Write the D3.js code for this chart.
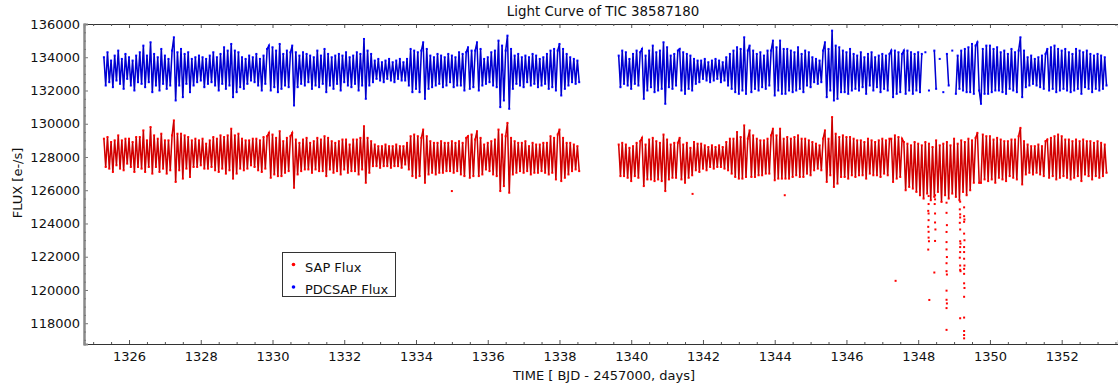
<!DOCTYPE html>
<html><head><meta charset="utf-8">
<script src="https://cdn.jsdelivr.net/npm/d3@7/dist/d3.min.js"></script>
<style>
body{margin:0;background:#fff}
svg{display:block;font-family:"DejaVu Sans",sans-serif}
</style>
</head><body>
<svg id="chart" width="1118" height="385"></svg>
<script>
// ---------------- DATA ----------------
const chartTitle = "Light Curve of TIC 38587180";
const xTitle = "TIME [ BJD - 2457000, days]";
const yTitle = "FLUX [e-/s]";
const seriesNames = ["SAP Flux", "PDCSAP Flux"];
const xTickValues = [1326,1328,1330,1332,1334,1336,1338,1340,1342,1344,1346,1348,1350,1352];
const yTickValues = [118000,120000,122000,124000,126000,128000,130000,132000,134000,136000];

// cadence of the (binned) samples, days; start time of each orbit
const cadence = 0.05;
const orbit1Start = 1325.30;
const orbit2Start = 1339.65;

// SAP flux, orbit 1 (e-/s)
const sapOrbit1 = [
129100,127400,129200,127300,128900,127100,129000,127500,129300,127300,
129000,127200,129100,127600,129100,127400,128900,127100,129200,127400,
129200,127300,129600,127100,129000,127400,129800,127000,129300,127400,
129100,127100,129400,127300,129000,127000,129000,127200,129300,130200,
126500,129400,127200,129400,126700,129300,127300,129200,126800,129000,
127400,129100,127400,129000,127500,129100,127300,128800,127300,129000,
127400,129200,127200,129100,127100,129300,127300,129200,127000,129300,
127200,129700,126700,129300,127000,129400,127300,129100,127200,129000,
127300,129000,127500,129100,127400,129100,127200,129000,127100,129200,
127300,129250,129450,126750,129350,126950,129150,126850,129550,126850,
128950,127050,129150,127150,129250,129450,126150,129050,126950,128850,
127150,129050,127250,129150,127250,128850,127050,128950,127250,129150,
127150,129050,127150,129250,126850,129150,127250,128950,127050,128850,
127150,128950,126950,129050,127250,129050,127050,128750,127150,129050,
127150,129050,126950,129150,127250,129850,126450,129150,127050,128950,
127450,128750,127450,128650,127350,128650,127450,128750,127450,128650,
127350,128650,127450,128750,127450,128650,127350,128650,127550,128850,
127250,129250,126850,129350,126750,129250,126850,129150,129650,126450,
129250,126950,128950,127050,128850,126950,128850,127050,128950,127050,
128850,127150,128850,127150,128950,127050,128850,127150,128950,126950,
128850,126850,129150,129250,126750,129350,126850,129050,129550,126850,
129150,126950,128750,127250,128850,127150,128950,126950,129050,126850,
129650,125950,129350,126250,129250,130050,125850,129150,126950,128950,
127050,128850,127150,128850,127050,128950,127150,128650,126950,128850,
127050,128750,127050,128750,127150,128850,127050,128850,126950,129250,
127050,129150,126650,129350,129650,126550,129150,126750,128850,126950,
128850,127150,128750,127250,128650,127150
];

// SAP flux, orbit 2 (e-/s)
const sapOrbit2 = [
128750,126850,128850,126850,128750,126750,128550,126550,128650,126850,
128850,126750,128950,129150,126250,128750,126650,129050,126650,129150,
126550,128950,126650,128850,126550,129350,125950,129050,126650,128750,
126750,128850,126750,128850,129150,126650,128750,126450,128850,126750,
128550,126900,128900,127200,128800,127100,128800,127300,128700,127200,
128600,127400,128700,127300,128600,127400,128700,127400,128600,127300,
128900,127200,129100,127000,129100,126800,129500,126700,129200,126700,
129900,126800,129100,129600,126800,129300,126800,129100,126900,129000,
126900,129000,127000,129100,127000,129300,129700,126600,129300,126700,
129700,126700,129100,126700,129200,126700,129100,126800,129200,126900,
129300,126800,129100,126800,129100,127000,129000,126900,128900,127200,
128800,127300,128700,127200,129100,129600,126500,129100,126900,130400,
126200,129400,126400,129200,126800,129300,126800,129200,126700,129200,
126900,129100,126800,129000,126900,129000,126900,128900,126700,129100,
127000,129000,126900,128900,126900,129000,126800,129100,127000,129000,
126900,129100,129100,126500,129300,126700,129200,126800,129100,128900,
126000,128800,126200,128700,126100,128900,125900,128800,125700,128700,
125500,128900,125800,128800,125400,128600,125600,129000,125900,128700,
125300,128800,125700,128900,125500,128700,125800,129100,125600,128800,
125400,129000,125900,128900,125700,129100,126000,129000,126450,129150,
129450,126450,126450,129350,126650,129250,126550,129250,126650,129050,
126450,129150,126750,129050,126650,128950,126550,128950,126850,129050,
126750,129050,126650,129250,129750,126350,128950,126950,128750,127050,
128650,126950,128650,127050,128750,126950,128650,126850,128950,129050,
126750,129150,126850,129250,126650,129350,126750,129250,126850,129050,
126750,129050,126650,128950,126750,129050,126850,128950,126550,129050,
126950,128950,126850,128950,126650,128850,126850,128950,126750,128850,
126850,128750,127050
];

// PDCSAP flux, orbit 1 (e-/s)
const pdcOrbit1 = [
134000,132300,134300,132500,133800,132200,134100,132600,134400,132400,
133900,132100,134200,132700,134000,132300,133800,132000,134100,132500,
134300,132400,134700,132200,134100,132500,134900,131900,134200,132300,
134000,132000,134500,132400,134100,132100,133900,132300,134400,135200,
131400,134300,132300,134500,131600,134200,132400,134300,131900,133900,
132300,134000,132500,134100,132600,134000,132200,133900,132400,134100,
132500,134300,132300,134000,132000,134200,132400,134600,132100,134400,
132300,134800,131600,134400,131900,134300,132200,134000,132100,133900,
132400,134100,132600,134000,132500,134200,132300,133900,132000,134100,
132400,134500,134700,132000,134600,132200,134400,131900,134800,132100,
134200,132300,134400,132200,134300,134700,131100,134300,132200,134100,
132400,134300,132300,134200,132500,134100,132100,134000,132300,134400,
132200,134100,132400,134500,131900,134200,132300,134000,132100,134100,
132400,134200,132000,134100,132500,134300,132300,134000,132200,134100,
132400,134300,132000,134200,132300,135100,131500,134400,132300,134200,
132500,133800,132700,133900,132600,133700,132500,133800,132700,133900,
132600,133700,132500,133800,132700,133900,132600,133700,132600,133900,
132300,134500,131900,134400,132100,134300,131900,134400,134900,131500,
134500,132100,134100,132200,134000,132300,134200,132400,134100,132200,
134000,132300,134200,132500,134100,132200,134000,132300,134300,132300,
134200,132000,134300,134600,132100,134400,132200,134400,134900,132000,
134500,132300,133900,132400,134000,132500,134300,132300,134400,132200,
135000,131000,134700,131400,134400,135300,130900,134500,132100,134100,
132400,134200,132300,134000,132200,134100,132500,134000,132300,134200,
132400,134100,132200,133900,132300,134000,132400,134200,132100,134400,
132200,134500,132000,134400,134800,131700,134500,132100,134200,132300,
134000,132500,133900,132400,133800,132500
];

// PDCSAP flux, orbit 2 (e-/s); null = flagged / removed cadence
const pdcOrbit2 = [
134100,132200,134400,132400,134300,132300,133900,132100,134200,132400,
134400,132300,134300,134500,131500,134100,132000,134400,132200,134700,
131900,134300,132000,134400,132100,134900,131200,134600,132200,134100,
132100,134200,132300,134400,134500,132000,134300,131800,134200,132100,
134100,132000,133900,132400,133800,132500,133800,132700,133900,132600,
133700,132500,133800,132600,133900,132700,133800,132500,133700,132600,
134000,132300,134200,132100,134400,131900,134600,131800,134500,132000,
135200,131800,134400,134700,131900,134400,132100,134200,132000,134300,
132200,134100,132100,134400,132300,134400,135000,131700,134600,132000,
135000,131800,134500,131800,134500,132000,134400,131900,134300,132000,
134600,132100,134200,131900,134400,132300,134300,132200,134000,132500,
133900,132400,133800,132500,134400,134900,131600,134500,132000,135600,
131400,134700,131500,134600,131900,134400,131900,134300,131800,134500,
132000,134200,132100,134100,132000,134300,132200,134000,131800,134200,
132300,134300,132000,134000,132200,134100,131900,134200,132100,134100,
132000,134200,134400,131600,134400,131800,134300,131900,134200,134400,
131800,134400,132000,134300,131800,134200,132000,134300,131900,134200,
null,134300,null,132000,null,null,134400,132100,null,133900,
null,131900,null,134200,132300,null,134400,null,131800,134100,
132100,134400,132000,134500,131900,134600,131900,134800,131800,134700,
134900,132000,131200,134500,131800,134700,131800,134700,131900,134500,
132000,134600,132000,134300,131900,134400,131800,134200,132100,134500,
132000,134300,131900,134400,135200,131600,134400,132200,134000,132300,
134100,132400,133900,132300,134000,132200,134100,132100,134200,134500,
132000,134600,132100,134700,131900,134500,132000,134400,132100,134500,
132000,134300,131900,134200,132000,134500,132100,134400,131800,134300,
132200,134400,132100,134200,131900,134100,132100,134200,132000,134100,
132100,134000,132300
];

// Isolated SAP points (flagged cadences during the scattered-light episode)
const sapOutlierTime = [
1335.00,1341.71,1344.28,1347.37,
1348.29,1348.29,1348.28,1348.29,1348.29,1348.28,1348.29,1348.29,1348.30,1348.28,1348.31,
1348.47,1348.47,1348.46,1348.47,1348.47,1348.48,1348.47,1348.45,
1348.79,1348.79,1348.80,1348.79,1348.79,1348.79,1348.80,1348.79,1348.79,1348.80,1348.79,1348.79,1348.80,1348.79,1348.79,
1349.17,1349.16,1349.17,1349.17,1349.16,1349.17,1349.17,1349.18,1349.17,1349.17,1349.16,1349.17,1349.17,1349.18,1349.17,
1349.28,1349.28,1349.29,1349.28,1349.28,1349.29,1349.28,1349.28,1349.28,1349.29,1349.28,1349.28,1349.28,1349.29,1349.28,1349.28,1349.28,1349.28,1349.28
];
const sapOutlierFlux = [
125950,125780,125700,120550,
125650,125170,124760,124600,124200,123800,123500,123150,122930,122430,119400,
125700,125450,125170,124600,124060,123640,122950,121050,
125250,124640,123900,123490,122880,122440,121980,121610,121130,120930,119960,119410,119190,118910,117600,
125310,124850,124550,124360,124040,123640,122930,122790,122580,122280,121940,121470,121210,121130,118300,
124970,124440,124240,124100,123390,122990,122580,122280,121880,121470,121270,120970,120400,120120,119590,118340,117530,117290,117090
];

// ---------------- CHART ----------------
const svg = d3.select("#chart");
const W = 1118, H = 385;
const m = {left: 84, right: 0, top: 24, bottom: 41};
const x = d3.scaleLinear().domain([1324.745, 1353.57]).range([m.left, W - m.right]);
const y = d3.scaleLinear().domain([116750, 136000]).range([H - m.bottom, m.top]);

function orbitPoints(start, vals) {
  return vals.map((v, i) => ({t: start + i * cadence, f: v}));
}
const sapPts = orbitPoints(orbit1Start, sapOrbit1)
  .concat([{t: null, f: null}], orbitPoints(orbit2Start, sapOrbit2));
const pdcPts = orbitPoints(orbit1Start, pdcOrbit1)
  .concat([{t: null, f: null}], orbitPoints(orbit2Start, pdcOrbit2));
const outliers = sapOutlierTime.map((t, i) => ({t, f: sapOutlierFlux[i]}));

const line = d3.line().defined(d => d.f != null).x(d => x(d.t)).y(d => y(d.f));

const series = [
  {pts: sapPts, lineColor: "#e00000", coreColor: "#700000", dotColor: "#ff0000"},
  {pts: pdcPts, lineColor: "#0000e0", coreColor: "#000070", dotColor: "#0000ff"}
];

const plot = svg.append("g");
series.forEach(s => {
  plot.append("path").datum(s.pts).attr("d", line)
    .attr("fill", "none").attr("stroke", s.lineColor).attr("stroke-width", 1.5);
  plot.append("path").datum(s.pts).attr("d", line)
    .attr("fill", "none").attr("stroke", s.coreColor).attr("stroke-width", 0.5)
    .attr("stroke-opacity", 0.35);
  plot.append("g").selectAll("rect")
    .data(s.pts.filter(d => d.f != null))
    .join("rect")
    .attr("x", d => x(d.t) - 1).attr("y", d => y(d.f) - 1)
    .attr("width", 2).attr("height", 2)
    .attr("fill", s.dotColor);
});
plot.append("g").selectAll("rect")
  .data(outliers).join("rect")
  .attr("x", d => x(d.t) - 1).attr("y", d => y(d.f) - 1)
  .attr("width", 2).attr("height", 2).attr("fill", "#ff0000");

// axes
const minorX = d3.range(1325, 1353.6, 0.5).filter(v => Math.abs(v / 2 - Math.round(v / 2)) > 1e-6);
const minorY = d3.range(117000, 136001, 500).filter(v => v % 2000 !== 0);
const fmt = d3.format("d");

const xb = svg.append("g").attr("transform", `translate(0,${H - m.bottom})`)
  .call(d3.axisBottom(x).tickValues(xTickValues).tickFormat(fmt).tickSize(-4).tickPadding(8));
const xbMinor = svg.append("g").attr("transform", `translate(0,${H - m.bottom})`)
  .call(d3.axisBottom(x).tickValues(minorX).tickFormat("").tickSize(-2));
const xt = svg.append("g").attr("transform", `translate(0,${m.top})`)
  .call(d3.axisTop(x).tickValues(xTickValues).tickFormat("").tickSize(-4));
const xtMinor = svg.append("g").attr("transform", `translate(0,${m.top})`)
  .call(d3.axisTop(x).tickValues(minorX).tickFormat("").tickSize(-2));
const yl = svg.append("g").attr("transform", `translate(${m.left},0)`)
  .call(d3.axisLeft(y).tickValues(yTickValues).tickFormat(fmt).tickSize(-4).tickPadding(4));
const ylMinor = svg.append("g").attr("transform", `translate(${m.left},0)`)
  .call(d3.axisLeft(y).tickValues(minorY).tickFormat("").tickSize(-2));

[xb, xbMinor, xt, xtMinor].forEach(g => {
  g.selectAll(".domain").attr("stroke", "#333").attr("stroke-width", 1.2);
  g.selectAll(".tick line").attr("stroke", "#555");
});
[yl, ylMinor].forEach(g => {
  g.selectAll(".domain").attr("stroke", "#8a8a8a").attr("stroke-width", 2);
  g.selectAll(".tick line").attr("stroke", "#777");
});
svg.selectAll(".tick text").attr("font-size", 13).attr("fill", "#111")
  .attr("font-family", "DejaVu Sans, sans-serif");

// titles
svg.append("text").attr("x", 603).attr("y", 16).attr("text-anchor", "middle")
  .attr("font-size", 13.4).attr("fill", "#111").text(chartTitle);
svg.append("text").attr("x", 604).attr("y", 380).attr("text-anchor", "middle")
  .attr("font-size", 13).attr("fill", "#111").text(xTitle);
svg.append("text").attr("transform", "translate(21.5,183) rotate(-90)")
  .attr("text-anchor", "middle").attr("font-size", 13).attr("fill", "#111").text(yTitle);

// legend
const lg = svg.append("g");
lg.append("rect").attr("x", 282.5).attr("y", 252.5).attr("width", 113).attr("height", 44)
  .attr("fill", "#fff").attr("stroke", "#333").attr("stroke-width", 1);
const legendColors = ["#ff0000", "#0000ff"];
seriesNames.forEach((n, i) => {
  lg.append("circle").attr("cx", 293.5).attr("cy", 264.5 + i * 22.5).attr("r", 1.8)
    .attr("fill", legendColors[i]);
  lg.append("text").attr("x", 305).attr("y", 272 + i * 22.2).attr("font-size", 13)
    .attr("fill", "#111").text(n);
});
</script>
</body></html>
